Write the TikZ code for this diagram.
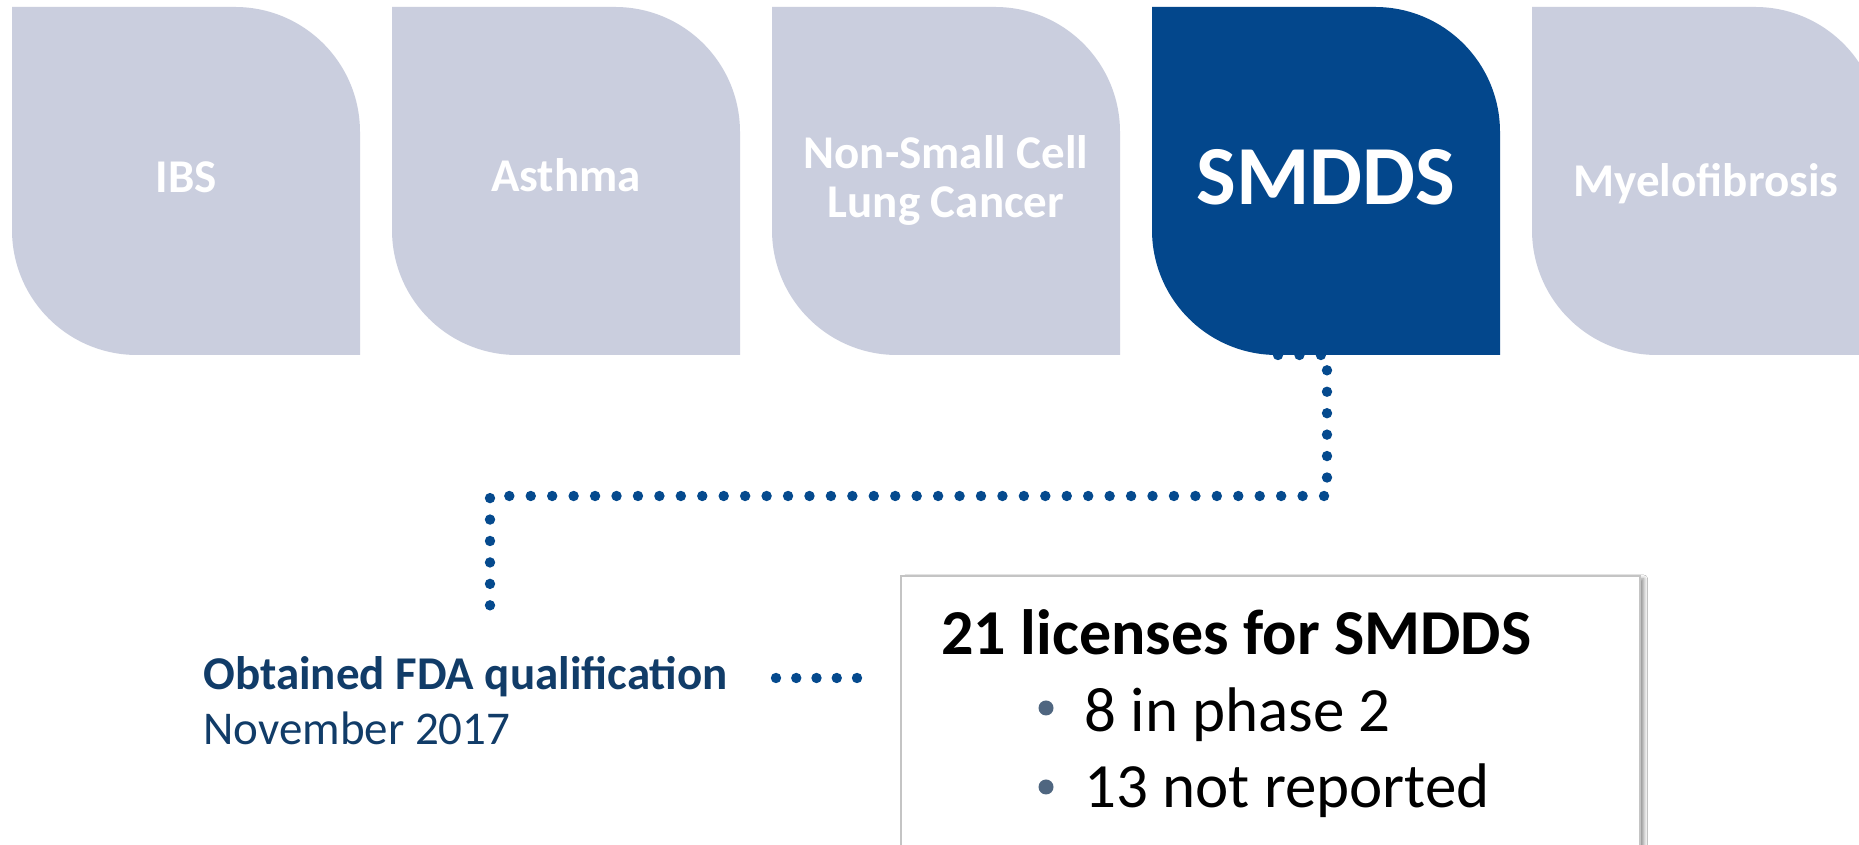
\documentclass[tikz,border=0pt]{standalone}
\usepackage{fontspec}
\setmainfont{Carlito}
\usetikzlibrary{shadows.blur}

\definecolor{tilegrey}{HTML}{CACEDE}
\definecolor{tilenavy}{HTML}{03478C}
\definecolor{dotnavy}{HTML}{054A8E}
\definecolor{labelnavy}{HTML}{113C68}
\definecolor{bulletslate}{HTML}{4F6680}
\definecolor{frame}{HTML}{C4C4C4}

% leaf-shaped tile: square with rounded top-right and bottom-left corners
\newcommand{\leaftile}[2]{%
  \fill[#2] (#1,615) -- (#1,838) -- ({#1+223},838)
    arc[start angle=90,end angle=0,radius=62.5pt] -- ({#1+348},490)
    -- ({#1+125},490) arc[start angle=270,end angle=180,radius=62.5pt] -- cycle;}

\begin{document}
\begin{tikzpicture}[x=0.5pt,y=0.5pt,
  tilelabel/.style={inner sep=0pt,anchor=base,text=white,
    font=\bfseries\fontsize{23.5}{24.5}\selectfont,align=center},
  dotline/.style={draw=dotnavy,line width=5.2pt,line cap=round,
    dash pattern=on 0pt off #1},
  headline/.style={inner sep=0pt,anchor=base west},
  bulletdot/.style={circle,fill=bulletslate,inner sep=0pt,minimum size=7.5pt}]

\useasboundingbox (0,0) rectangle (1859,845);
\fill[white] (0,0) rectangle (1859,845);

% milestone label below the path
\node[headline,text=labelnavy,font=\bfseries\fontsize{23.5}{28}\selectfont]
  (fda) at (203,155) {Obtained FDA qualification};
\node[headline,text=labelnavy,font=\fontsize{23.5}{28}\selectfont]
  (fdadate) at (203,100) {November 2017};

% dotted path leaving the SMDDS tile (runs underneath it)
\coordinate (smddsfoot) at (1278,490);
\coordinate (fdatop) at (490,220);
\draw[dotline=10.72pt] (smddsfoot) -- ++(49,0) |- (490,349) -- (fdatop);

% tiles
\leaftile{12}{tilegrey}
\leaftile{392}{tilegrey}
\leaftile{772}{tilegrey}
\leaftile{1152}{tilenavy}
\leaftile{1532}{tilegrey}

\node[tilelabel] (ibs) at (186,652) {IBS};
\node[tilelabel] (asthma) at (566,653) {Asthma};
\node[tilelabel] (nsclc) at (946,627) {Non-Small Cell\\Lung Cancer};
\node[tilelabel,font=\bfseries\fontsize{42}{44}\selectfont] (smdds) at (1326,640) {SMDDS};
\node[tilelabel] (myelo) at (1706,648) {Myelofibrosis};

% license summary box
\node[draw=frame,line width=0.8pt,fill=white,anchor=north west,
  minimum width=369.5pt,minimum height=160pt,inner sep=0pt,
  blur shadow={shadow xshift=2pt,shadow yshift=-1.5pt,shadow blur steps=6,shadow opacity=45}]
  (info) at (900,270) {};

\node[headline,font=\bfseries\fontsize{32}{36}\selectfont] (title) at (941,190) {21 licenses for SMDDS};
\node[bulletdot] (b1) at (1046,137) {};
\node[headline,font=\fontsize{31.5}{36}\selectfont] (item1) at (1084,113) {8 in phase 2};
\node[bulletdot] (b2) at (1046,58) {};
\node[headline,font=\fontsize{31.5}{36}\selectfont] (item2) at (1084,37) {13 not reported};

% short dotted link from the milestone label towards the box
\coordinate (fdatail) at (776,167);
\coordinate (fdahead) at (857,167);
\draw[dotline=10.125pt] (fdatail) -- (fdahead);

\end{tikzpicture}
\end{document}
